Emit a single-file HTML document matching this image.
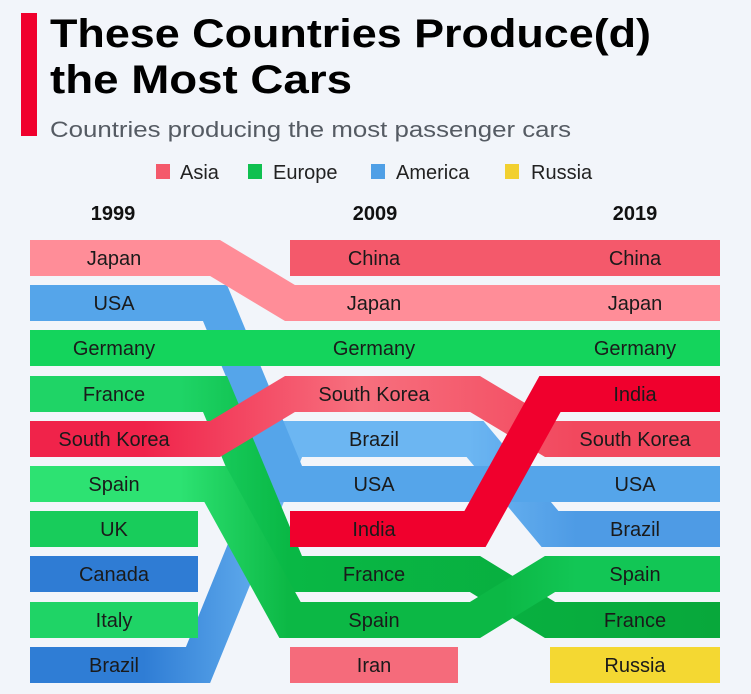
<!DOCTYPE html>
<html><head><meta charset="utf-8"><style>
html,body{margin:0;padding:0;background:#f2f5fa;}
svg{display:block;font-family:"Liberation Sans",sans-serif;}
</style></head><body>
<svg width="751" height="694" viewBox="0 0 751 694" xmlns="http://www.w3.org/2000/svg">
<rect width="751" height="694" fill="#f2f5fa"/>
<rect x="21" y="13" width="16" height="123" fill="#f0002d"/>
<text x="50" y="47" font-size="40" font-weight="bold" fill="#000" textLength="601" lengthAdjust="spacingAndGlyphs">These Countries Produce(d)</text>
<text x="50" y="93" font-size="40" font-weight="bold" fill="#000" textLength="302" lengthAdjust="spacingAndGlyphs">the Most Cars</text>
<text x="50" y="137" font-size="22" fill="#555b63" textLength="521" lengthAdjust="spacingAndGlyphs">Countries producing the most passenger cars</text>

<g font-size="20" fill="#222">
<rect x="156" y="164" width="14" height="15" fill="#f4596b"/><text x="180" y="179">Asia</text>
<rect x="248" y="164" width="14" height="15" fill="#10c050"/><text x="273" y="179">Europe</text>
<rect x="371" y="164" width="14" height="15" fill="#4f9fe6"/><text x="396" y="179">America</text>
<rect x="505" y="164" width="14" height="15" fill="#f2d030"/><text x="531" y="179">Russia</text>
</g>
<g font-size="20" font-weight="bold" fill="#111" text-anchor="middle">
<text x="113" y="220">1999</text><text x="375" y="220">2009</text><text x="635" y="220">2019</text>
</g>

<defs>
<linearGradient id="gBrazil" x1="0" x2="720" gradientUnits="userSpaceOnUse"><stop offset="0.2" stop-color="#2f7dd5"/><stop offset="0.4" stop-color="#6cb6f2"/><stop offset="0.65" stop-color="#6cb6f2"/><stop offset="0.8" stop-color="#4e9be5"/></linearGradient>
<linearGradient id="gFrance" x1="0" x2="720" gradientUnits="userSpaceOnUse"><stop offset="0.25" stop-color="#1fd466"/><stop offset="0.4" stop-color="#09b845"/><stop offset="1" stop-color="#08a83b"/></linearGradient>
<linearGradient id="gSpain" x1="0" x2="720" gradientUnits="userSpaceOnUse"><stop offset="0.25" stop-color="#2de272"/><stop offset="0.4" stop-color="#0cb845"/><stop offset="0.7" stop-color="#0cb845"/><stop offset="0.8" stop-color="#12c655"/></linearGradient>
<linearGradient id="gKorea" x1="0" x2="720" gradientUnits="userSpaceOnUse"><stop offset="0.2" stop-color="#f0234a"/><stop offset="0.5" stop-color="#f7707e"/><stop offset="0.8" stop-color="#f2485e"/></linearGradient>
</defs>

<g fill="none" stroke-width="36" stroke-linejoin="miter" stroke-miterlimit="10">
<path stroke="url(#gBrazil)" d="M30,665 H198 L290,439 H475 L550,529 H720"/>
<path stroke="#55a5ea" d="M30,303 H215 L290,484 H475 L550,484 H720"/>
<path stroke="url(#gFrance)" d="M30,394 H215 L290,574 H475 L550,620 H720"/>
<path stroke="url(#gSpain)" d="M30,484 H215 L290,620 H475 L550,574 H720"/>
<path stroke="#ff8d98" d="M30,258 H215 L290,303 H720"/>
<path stroke="url(#gKorea)" d="M30,439 H215 L290,394 H475 L550,439 H720"/>
<path stroke="#f0002d" d="M290,529 H475 L550,394 H720"/>
</g>
<rect x="30" y="330" width="690" height="36" fill="#14d45c"/>
<rect x="290" y="240" width="430" height="36" fill="#f4596b"/>
<rect x="290" y="647" width="168" height="36" fill="#f56b7b"/>
<rect x="30" y="511" width="168" height="36" fill="#18cc5b"/>
<rect x="30" y="556" width="168" height="36" fill="#2f7cd4"/>
<rect x="30" y="602" width="168" height="36" fill="#1fd466"/>
<rect x="550" y="647" width="170" height="36" fill="#f4d832"/>

<g font-size="20" fill="#1a1a1a" text-anchor="middle">
<text x="114" y="265">Japan</text><text x="114" y="310">USA</text><text x="114" y="355">Germany</text><text x="114" y="401">France</text><text x="114" y="446">South Korea</text><text x="114" y="491">Spain</text><text x="114" y="536">UK</text><text x="114" y="581">Canada</text><text x="114" y="627">Italy</text><text x="114" y="672">Brazil</text>
<text x="374" y="265">China</text><text x="374" y="310">Japan</text><text x="374" y="355">Germany</text><text x="374" y="401">South Korea</text><text x="374" y="446">Brazil</text><text x="374" y="491">USA</text><text x="374" y="536">India</text><text x="374" y="581">France</text><text x="374" y="627">Spain</text><text x="374" y="672">Iran</text>
<text x="635" y="265">China</text><text x="635" y="310">Japan</text><text x="635" y="355">Germany</text><text x="635" y="401">India</text><text x="635" y="446">South Korea</text><text x="635" y="491">USA</text><text x="635" y="536">Brazil</text><text x="635" y="581">Spain</text><text x="635" y="627">France</text><text x="635" y="672">Russia</text>
</g>
</svg>
</body></html>
